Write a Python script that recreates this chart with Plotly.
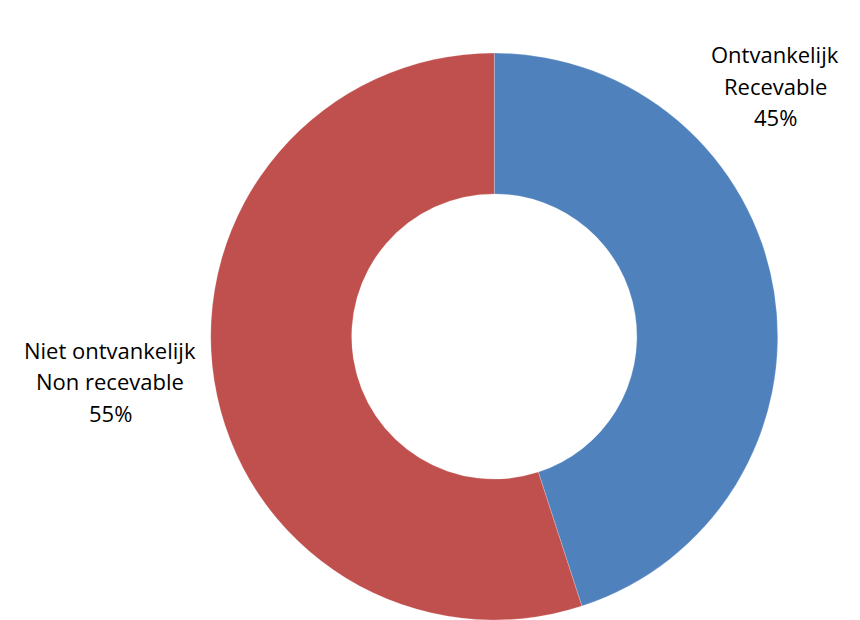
import plotly.graph_objects as go

# Admissibility split
labels_nl = ["Ontvankelijk", "Niet ontvankelijk"]
labels_fr = ["Recevable", "Non recevable"]
values = [45, 55]
colors = ["#4F81BD", "#C0504D"]

W, H = 860, 620

fig = go.Figure(
    go.Pie(
        labels=[f"{a} / {b}" for a, b in zip(labels_nl, labels_fr)],
        values=values,
        hole=0.503,
        sort=False,
        direction="clockwise",
        rotation=0,
        textinfo="none",
        hoverinfo="label+percent",
        marker=dict(colors=colors, line=dict(color="rgba(255,255,255,0.35)", width=0.6)),
        domain=dict(x=[210.5 / W, 778 / W], y=[0, 1 - 53 / H]),
        showlegend=False,
    )
)

total = sum(values)
# Label anchors: pixel centre x and the centre y of the middle line
label_pos = [(775, 86), (110, 381)]
line_gap = 31.5
annotations = []
for nl, fr, v, (px, py) in zip(labels_nl, labels_fr, values, label_pos):
    lines = [nl, fr, f"{v / total * 100:.0f}%"]
    for i, line in enumerate(lines):
        annotations.append(
            dict(
                text=line,
                x=px / W,
                y=1 - (py + (i - 1) * line_gap) / H,
                xref="paper",
                yref="paper",
                xanchor="center",
                yanchor="middle",
                showarrow=False,
                align="center",
                font=dict(family="Open Sans", size=22, color="#000000"),
            )
        )

fig.update_layout(
    width=W,
    height=H,
    margin=dict(l=0, r=0, t=0, b=0),
    paper_bgcolor="white",
    plot_bgcolor="white",
    annotations=annotations,
)

fig.write_html("out.html")
